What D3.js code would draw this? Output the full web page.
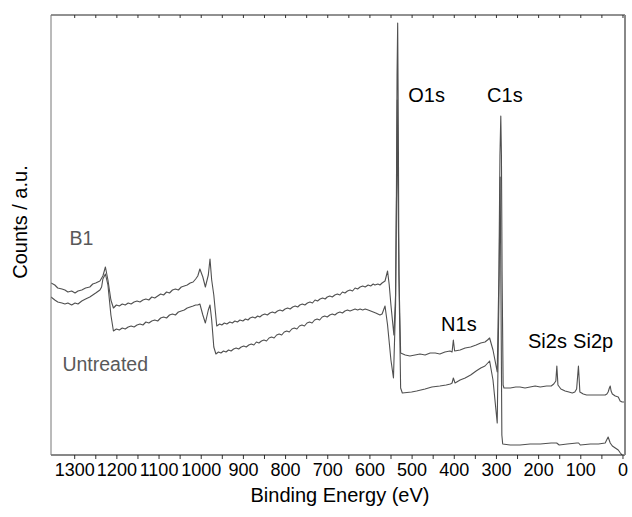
<!DOCTYPE html>
<html>
<head>
<meta charset="utf-8">
<script src="https://cdn.jsdelivr.net/npm/d3@7"></script>
<style>
  body { margin: 0; background: #fff; }
  text { font-family: "Liberation Sans", Arial, sans-serif; }
</style>
</head>
<body>
<div id="container"></div>
<script>
/* CONSTANTS AND GLOBALS */
const width = 632;
const height = 517;
const margin = { top: 15, right: 7, bottom: 62, left: 51 };

/* DATA (binding energy in eV, counts in a.u.) */
const b1Energy = [1355, 1346, 1339, 1329, 1322, 1315, 1306, 1298, 1291, 1282, 1273, 1263, 1256, 1249, 1239, 1232, 1226, 1220, 1213,
  1207, 1200, 1193, 1186, 1179, 1172, 1165, 1158, 1151, 1144, 1137, 1130, 1123, 1116, 1109, 1102, 1095, 1088, 1081, 1074, 1067, 1060, 1053, 1046, 1039, 1032, 1025, 1018, 1012, 1007,
  1002, 995, 989, 982, 978, 974, 969,
  962, 955, 950, 944, 938, 931, 925, 919, 913, 907, 900, 894, 888, 883, 877, 871, 865, 860, 854, 848, 842, 836, 830, 824, 818, 812, 806, 800, 794, 788, 782, 776, 770, 765, 759, 753, 747, 741, 735, 729, 723, 717, 711, 705, 700, 694, 688, 682, 676, 670, 664, 658, 652, 646, 640, 634, 628, 622, 616, 610, 603, 597, 591, 587, 580, 575, 570,
  563, 557, 553, 549, 542, 538, 536, 534.5, 533, 531.5, 530, 526,
  515, 504, 492, 480, 468, 456, 444, 433, 421, 409, 404, 401, 398, 385, 373, 360, 347, 336, 326, 320, 315, 307, 301, 297,
  293, 290.5, 288.5, 287, 285.4, 283, 281,
  266, 253, 243, 231, 219, 207, 195, 180, 169, 163, 158, 155.6, 153, 146, 136, 127, 119, 113, 108.7, 104.4, 101, 93, 85, 77, 67, 58, 48, 41, 37, 34, 31, 29, 27, 24, 17, 10, 5.5, 0.7, -6];
const b1Counts = [172, 170, 167, 166, 165, 163, 164, 162, 164, 165, 167, 168, 171, 172, 174, 179, 188, 175, 155,
  147, 150, 149, 151, 150, 152, 151, 153, 154, 153, 155, 156, 155, 158, 157, 159, 161, 160, 163, 162, 165, 166, 165, 168, 169, 170, 172, 173, 176, 179,
  186, 178, 168, 180, 196, 175, 160,
  129, 131, 130, 132, 131, 133, 132, 134, 133, 135, 134, 136, 135, 137, 138, 137, 139, 138, 140, 141, 140, 142, 143, 142, 144, 145, 144, 146, 147, 146, 148, 149, 148, 150, 151, 150, 152, 153, 152, 155, 154, 156, 157, 156, 158, 159, 158, 160, 161, 160, 163, 162, 164, 165, 164, 167, 166, 168, 169, 168, 170, 169, 171, 170, 171, 170, 172,
  174, 184, 170, 150, 120, 160, 260, 380, 432, 330, 180, 102,
  100, 99, 100, 101, 100, 102, 102, 101, 103, 104, 103, 115, 104, 105, 107, 108, 110, 112, 113, 115, 117, 105, 92, 83,
  180, 300, 339, 300, 180, 70, 67,
  67, 68, 68, 67, 68, 69, 68, 69, 69, 71, 74, 89, 70, 66, 64, 63, 62, 63, 66, 89, 63, 61, 60, 60, 60, 60, 60, 60, 61, 63, 67, 69, 64, 61, 59, 58, 54, 53, 53];

const untreatedEnergy = [1355, 1346, 1339, 1329, 1322, 1315, 1306, 1298, 1291, 1282, 1273, 1263, 1256, 1249, 1239, 1235, 1232, 1226, 1220, 1213,
  1207, 1200, 1193, 1186, 1179, 1172, 1165, 1158, 1151, 1144, 1137, 1130, 1123, 1116, 1109, 1102, 1095, 1088, 1081, 1074, 1067, 1060, 1053, 1046, 1039, 1032, 1025, 1018, 1012, 1007,
  1002, 995, 989, 982, 978, 974, 969,
  964, 958, 952, 946, 940, 934, 928, 922, 916, 910, 904, 898, 892, 886, 880, 874, 868, 862, 856, 850, 844, 838, 832, 826, 820, 814, 808, 802, 796, 790, 784, 778, 772, 766, 760, 754, 748, 742, 736, 730, 724, 718, 712, 706, 700, 694, 688, 682, 676, 670, 664, 658, 652, 646, 640, 634, 628, 622, 616, 610, 603, 597, 591, 585, 580, 575, 570,
  563, 557, 549, 543, 538, 535.5, 534, 532.5, 529, 526, 522,
  500, 488, 468, 452, 433, 418, 408, 404, 401, 397, 385, 373, 360, 347, 336, 326, 315, 307, 300, 297,
  293, 290, 288, 286, 284,
  266, 243, 219, 195, 169, 156, 150, 131, 108, 104, 100, 76, 57, 41, 34, 29, 24, 17, 10, 5, 0.7];
const untreatedCounts = [158, 155, 153, 152, 151, 152, 150, 152, 151, 154, 156, 158, 160, 162, 165, 168, 176, 181, 170, 140,
  124, 126, 125, 127, 126, 128, 129, 128, 130, 131, 130, 133, 132, 134, 135, 134, 137, 138, 137, 140, 141, 140, 143, 144, 145, 147, 148, 149, 150, 150,
  151, 140, 132, 145, 150, 135, 108,
  101, 103, 102, 104, 103, 105, 104, 106, 107, 106, 108, 109, 108, 110, 111, 110, 113, 112, 114, 115, 114, 117, 118, 117, 120, 121, 120, 123, 124, 123, 126, 127, 126, 129, 130, 129, 132, 133, 132, 135, 136, 135, 138, 139, 138, 140, 141, 140, 142, 143, 142, 144, 145, 144, 145, 146, 145, 146, 145, 146, 145, 144, 143, 142, 141, 140, 141,
  149, 130, 95, 77, 150, 270, 355, 270, 150, 67, 62,
  63, 64, 66, 68, 69, 70, 71, 72, 77, 72, 75, 77, 80, 84, 87, 89, 94, 75, 45, 32,
  155, 278, 155, 20, 11,
  10, 10, 11, 11, 12, 12, 10, 11, 12, 12, 10, 11, 11, 12, 18, 12, 9, 7, 5, 2, 0];

const peakLabels = ["O1s", "C1s", "N1s", "Si2s", "Si2p"];
const peakLabelEnergy = [508, 321, 430, 224, 117];
const peakLabelCounts = [353, 353, 124, 107, 107];

const seriesNames = ["B1", "Untreated"];
const seriesLabelEnergy = [1311, 1328];
const seriesLabelCounts = [210, 84];

const xTicks = d3.range(0, 1301, 50);

/* SVG */
const svg = d3.select("#container")
  .append("svg")
  .attr("width", width)
  .attr("height", height)
  .style("background-color", "white");

/* SCALES */
const xScale = d3.scaleLinear()
  .domain([1355, -6])
  .range([margin.left, width - margin.right]);

const yScale = d3.scaleLinear()
  .domain([0, 440])
  .range([height - margin.bottom, margin.top]);

svg.append("clipPath").attr("id", "plot-clip")
  .append("rect")
  .attr("x", margin.left)
  .attr("y", margin.top)
  .attr("width", width - margin.left - margin.right)
  .attr("height", height - margin.top - margin.bottom);

/* LINES */
const line = d3.line()
  .x(d => xScale(d.e))
  .y(d => yScale(d.c));

const series = [
  b1Energy.map((e, i) => ({ e, c: b1Counts[i] })),
  untreatedEnergy.map((e, i) => ({ e, c: untreatedCounts[i] }))
];

svg.append("g")
  .attr("clip-path", "url(#plot-clip)")
  .selectAll("path")
  .data(series)
  .join("path")
  .attr("d", line)
  .attr("fill", "none")
  .attr("stroke", "#505050")
  .attr("stroke-width", 1.1)
  .attr("stroke-linejoin", "round");

/* AXES */
const xAxis = d3.axisBottom(xScale)
  .tickValues(xTicks)
  .tickSize(4)
  .tickPadding(4)
  .tickFormat(d => d % 100 === 0 ? d : "");

const gx = svg.append("g")
  .attr("transform", `translate(0,${height - margin.bottom})`)
  .call(xAxis);
gx.select(".domain").remove();
gx.selectAll("text").attr("font-size", 18).attr("fill", "#000").attr("font-family", "'Liberation Sans', Arial, sans-serif");
gx.selectAll("line").attr("stroke", "#333");

const gTop = svg.append("g")
  .attr("transform", `translate(0,${margin.top})`)
  .call(d3.axisTop(xScale).tickValues(xTicks).tickSize(-3).tickFormat(""));
gTop.select(".domain").remove();
gTop.selectAll("line").attr("stroke", "#333");

// frame
svg.append("line")
  .attr("x1", margin.left).attr("x2", width - margin.right)
  .attr("y1", height - margin.bottom).attr("y2", height - margin.bottom)
  .attr("stroke", "#111");
svg.append("line")
  .attr("x1", margin.left).attr("x2", width - margin.right)
  .attr("y1", margin.top).attr("y2", margin.top)
  .attr("stroke", "#222");
svg.append("line")
  .attr("x1", margin.left).attr("x2", margin.left)
  .attr("y1", margin.top).attr("y2", height - margin.bottom)
  .attr("stroke", "#777");
svg.append("line")
  .attr("x1", width - margin.right).attr("x2", width - margin.right)
  .attr("y1", margin.top).attr("y2", height - margin.bottom)
  .attr("stroke", "#888")
  .attr("stroke-width", 2);

/* AXIS TITLES */
svg.append("text")
  .attr("x", (margin.left + width - margin.right) / 2 + 2)
  .attr("y", 502)
  .attr("text-anchor", "middle")
  .attr("font-size", 20)
  .text("Binding Energy (eV)");

svg.append("text")
  .attr("transform", `translate(27,${222}) rotate(-90)`)
  .attr("text-anchor", "middle")
  .attr("font-size", 20)
  .text("Counts / a.u.");

/* ANNOTATIONS */
svg.selectAll(".peak-label")
  .data(peakLabels)
  .join("text")
  .attr("class", "peak-label")
  .attr("x", (d, i) => xScale(peakLabelEnergy[i]))
  .attr("y", (d, i) => yScale(peakLabelCounts[i]))
  .attr("font-size", 20)
  .attr("fill", "#000")
  .text(d => d);

svg.selectAll(".series-label")
  .data(seriesNames)
  .join("text")
  .attr("class", "series-label")
  .attr("x", (d, i) => xScale(seriesLabelEnergy[i]))
  .attr("y", (d, i) => yScale(seriesLabelCounts[i]))
  .attr("font-size", 19.5)
  .attr("font-family", "'Open Sans', Lato, sans-serif")
  .attr("fill", "#595959")
  .text(d => d);
</script>
</body>
</html>
